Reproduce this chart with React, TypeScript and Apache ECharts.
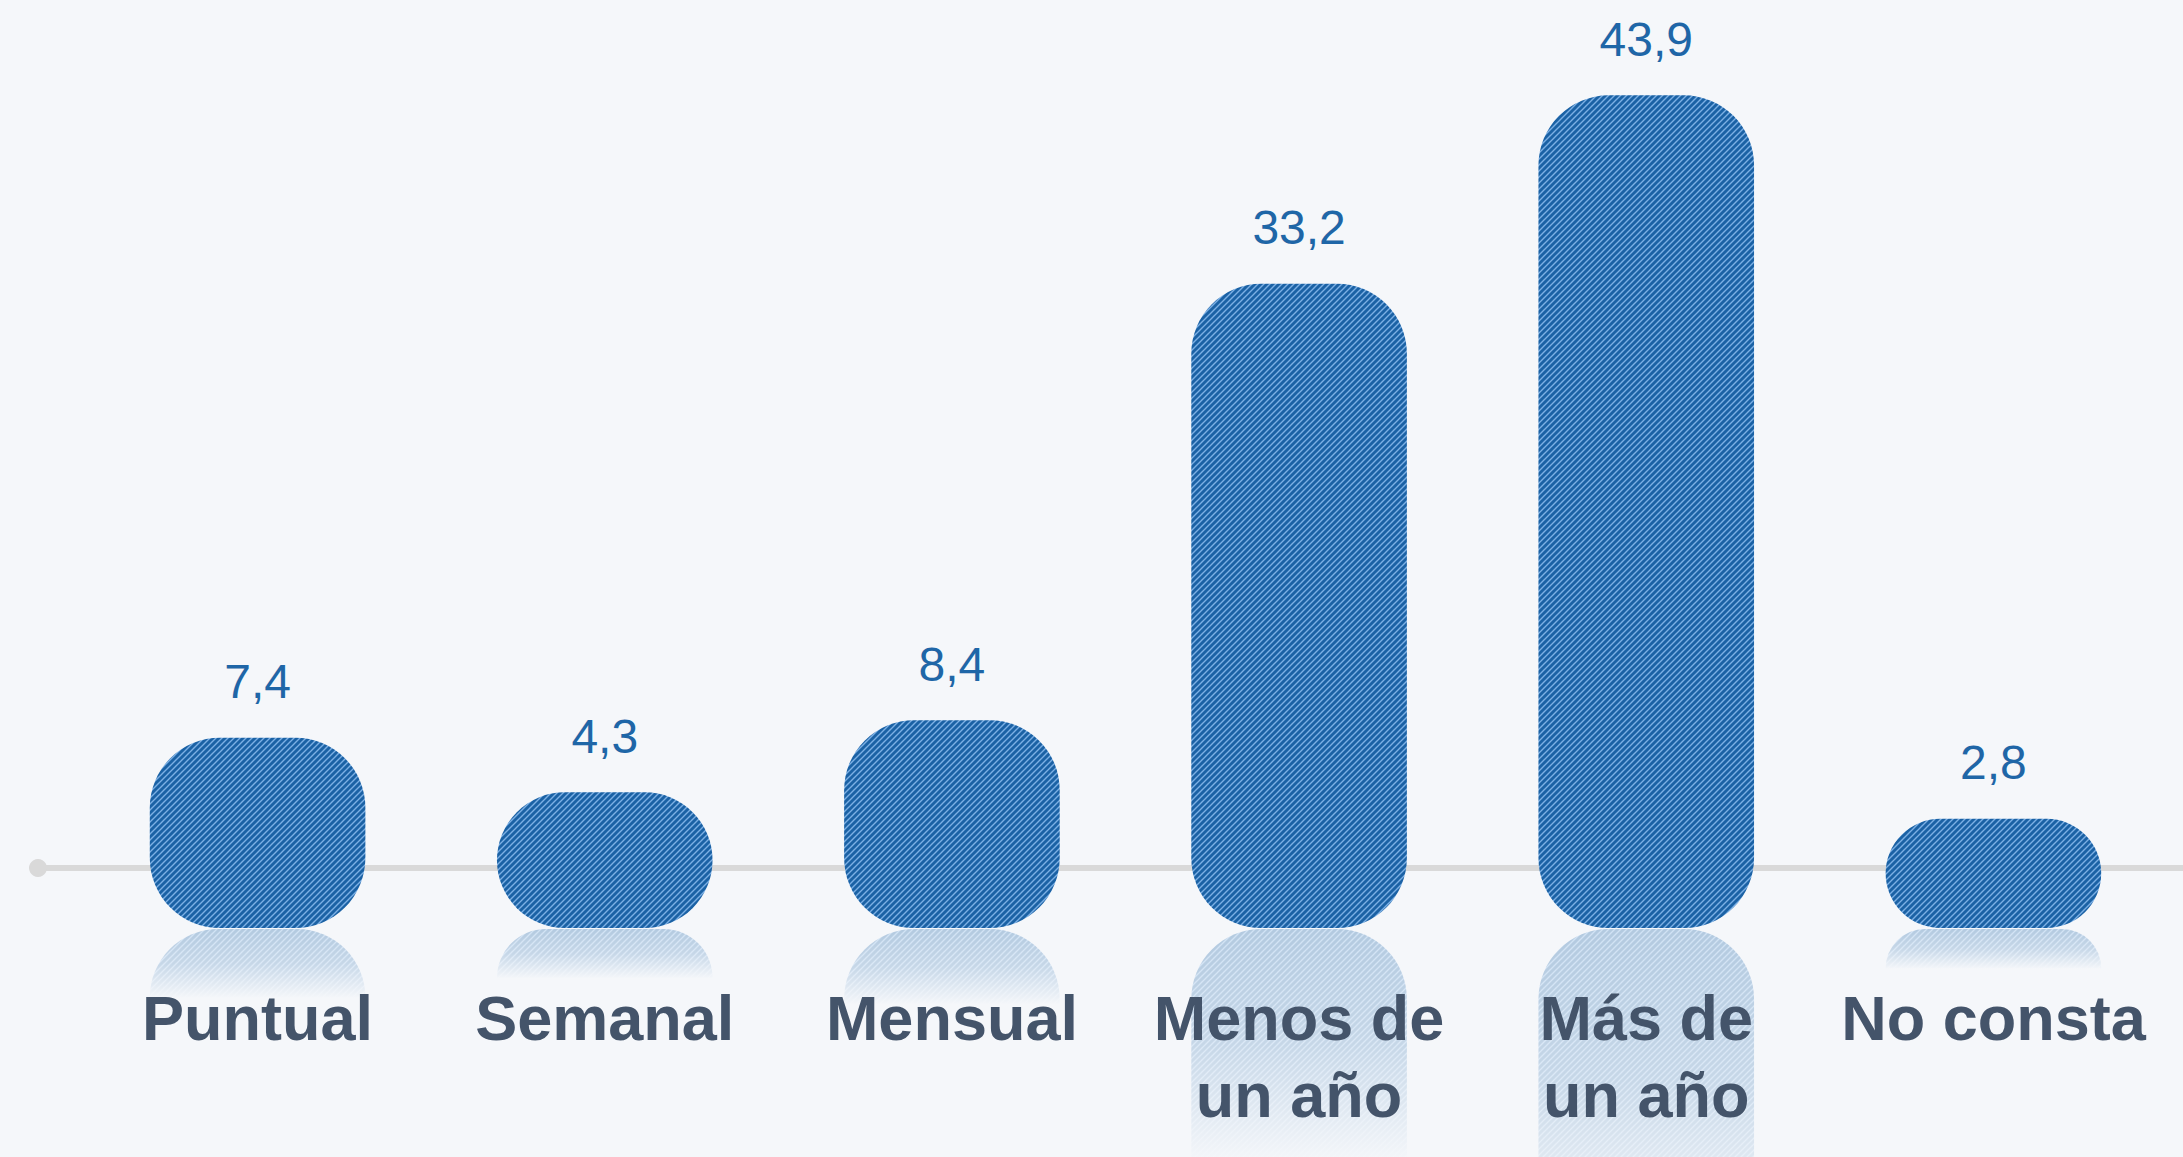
import React, { useEffect, useRef } from "react";
import * as echarts from "echarts";

const categories = ["Puntual", "Semanal", "Mensual", "Menos de\nun año", "Más de\nun año", "No consta"];
const values = [7.4, 4.3, 8.4, 33.2, 43.9, 2.8];

const BG = "#f5f7fa";

function makePattern() {
  const s = 6;
  const c = document.createElement("canvas");
  c.width = s;
  c.height = s;
  const ctx = c.getContext("2d")!;
  ctx.fillStyle = "#1b62a5";
  ctx.fillRect(0, 0, s, s);
  ctx.strokeStyle = "rgba(130,180,232,0.95)";
  ctx.lineWidth = 1.4;
  ctx.beginPath();
  ctx.moveTo(-1, s + 1);
  ctx.lineTo(s + 1, -1);
  ctx.moveTo(-1, 1);
  ctx.lineTo(1, -1);
  ctx.moveTo(s - 1, s + 1);
  ctx.lineTo(s + 1, s - 1);
  ctx.stroke();
  return { image: c.toDataURL(), repeat: "repeat", imageWidth: s, imageHeight: s };
}

export default function App() {
  const ref = useRef<HTMLDivElement>(null);
  useEffect(() => {
    document.body.style.margin = "0";
    const chart = echarts.init(ref.current!, null, { renderer: "svg" });
    const pattern: any = makePattern();
    const fmt = (v: number) => v.toFixed(1).replace(".", ",");
    const option: any = {
      animation: false,
      backgroundColor: BG,
      grid: [
        { left: 84, right: 16, top: 76, bottom: 289 },
        { left: 38, right: 0, top: 76, bottom: 289 },
      ],
      xAxis: [
        {
          type: "category",
          data: categories,
          gridIndex: 0,
          z: 10,
          axisLine: { show: false },
          axisTick: { show: false },
          axisLabel: {
            interval: 0,
            margin: 111,
            fontSize: 63,
            fontWeight: "bold",
            fontFamily: '"Liberation Sans", Arial, sans-serif',
            color: "#44546a",
            lineHeight: 77,
          },
        },
        {
          type: "value",
          gridIndex: 1,
          min: 0,
          max: 1,
          z: 0,
          axisLine: {
            show: true,
            symbol: ["circle", "none"],
            symbolSize: [18, 18],
            lineStyle: { color: "#d9d9d9", width: 6 },
          },
          axisTick: { show: false },
          axisLabel: { show: false },
          splitLine: { show: false },
        },
      ],
      yAxis: [
        { type: "value", gridIndex: 0, min: 0, max: 45, show: false },
        { type: "value", gridIndex: 1, min: 0, max: 1, show: false },
      ],
      series: [
        {
          type: "custom",
          xAxisIndex: 0,
          yAxisIndex: 0,
          z: 2,
          data: values.map((v, i) => [i, v]),
          renderItem: (params: any, api: any) => {
            const i = api.value(0);
            const v = api.value(1);
            const top = api.coord([i, v]);
            const base = api.coord([i, 0]);
            const bw = api.size([1, 0])[0] * 0.621;
            const x = top[0] - bw / 2;
            const bottom = base[1] + 60;
            const h = bottom - top[1];
            const r = Math.min(70, h / 2, bw / 2);
            const refH = h * 0.36;
            return {
              type: "group",
              children: [
                {
                  type: "rect",
                  shape: { x, y: bottom + 1, width: bw, height: refH, r: [r, r, 0, 0] },
                  style: { fill: pattern, opacity: 0.3 },
                },
                {
                  type: "rect",
                  shape: { x: x - 1, y: bottom + 1, width: bw + 2, height: refH + 1 },
                  style: {
                    fill: {
                      type: "linear",
                      x: 0,
                      y: 0,
                      x2: 0,
                      y2: 1,
                      colorStops: [
                        { offset: 0, color: "rgba(245,247,250,0)" },
                        { offset: 0.5, color: "rgba(245,247,250,0.3)" },
                        { offset: 1, color: "rgba(245,247,250,1)" },
                      ],
                    },
                  },
                },
                {
                  type: "rect",
                  shape: { x, y: top[1], width: bw, height: h, r },
                  style: { fill: pattern },
                },
                {
                  type: "text",
                  x: top[0],
                  y: top[1] - 56,
                  style: {
                    text: fmt(v),
                    align: "center",
                    verticalAlign: "middle",
                    font: '48px "Liberation Sans", Arial, sans-serif',
                    fill: "#1f66a7",
                  },
                },
              ],
            };
          },
        },
      ],
    };
    chart.setOption(option);
    return () => chart.dispose();
  }, []);
  return <div ref={ref} style={{ width: 2183, height: 1157 }} />;
}
